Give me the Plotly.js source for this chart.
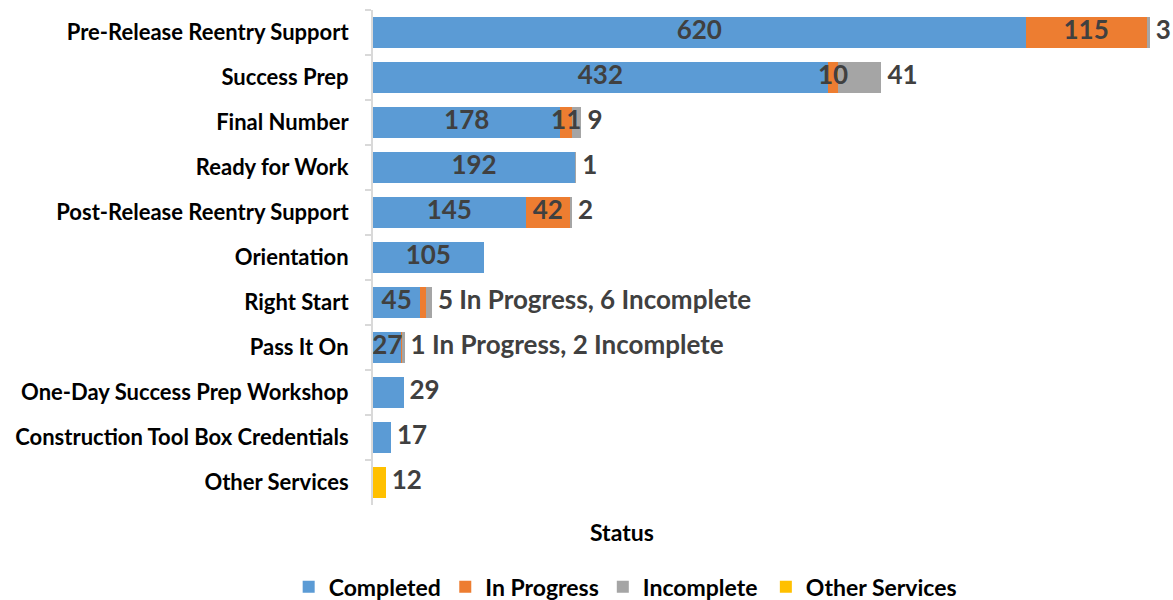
<!DOCTYPE html>
<html>
<head>
<meta charset="utf-8">
<script src="https://cdn.plot.ly/plotly-3.0.1.min.js"></script>
<style>html,body{margin:0;padding:0;background:#fff;}#chart{width:1173px;height:600px;}</style>
</head>
<body>
<div id="chart"></div>
<script>
const categories = ["Pre-Release Reentry Support","Success Prep","Final Number","Ready for Work","Post-Release Reentry Support","Orientation","Right Start","Pass It On","One-Day Success Prep Workshop","Construction Tool Box Credentials","Other Services"];
const completed = [620,432,178,192,145,105,45,27,29,17,0];
const inProgress = [115,10,11,0,42,0,5,1,0,0,0];
const incomplete = [3,41,9,1,2,0,6,2,0,0,0];
const otherServices = [0,0,0,0,0,0,0,0,0,0,12];
const completedLabels = ["620","432","178","192","145","105","45","27","","",""];
const inProgressLabels = ["115","10","11","","42","","","","","",""];
const outsideLabels = ["3","41","9","1","2","","5 In Progress, 6 Incomplete","1 In Progress, 2 Incomplete","29","17","12"];
const seriesNames = ["Completed","In Progress","Incomplete","Other Services"];
const seriesColors = ["#5B9BD5","#ED7D31","#A5A5A5","#FFC000"];

const totals = categories.map((c,i)=>completed[i]+inProgress[i]+incomplete[i]+otherServices[i]);
const completedMid = completed.map(v=>v/2);
const inProgressMid = completed.map((v,i)=>v+inProgress[i]/2);
const FONT = "Lato, 'Open Sans', sans-serif";
const labelFont = {family: FONT, size: 26, color: "#404040", weight: 700};
const legendIds = ["legend","legend2","legend3","legend4"];

function barTrace(k, x){
  return {
    type: "bar", orientation: "h", name: seriesNames[k], y: categories, x: x,
    marker: {color: seriesColors[k], line: {width: 0}},
    textposition: "none", hoverinfo: "skip", legend: legendIds[k]
  };
}
function textTrace(x, text, pos, msize){
  return {
    type: "scatter", mode: "markers+text", x: x, y: categories, text: text,
    textposition: pos, textfont: labelFont,
    marker: {size: msize, color: "rgba(0,0,0,0)"},
    showlegend: false, hoverinfo: "skip", cliponaxis: false
  };
}

const data = [
  barTrace(0, completed),
  barTrace(1, inProgress),
  barTrace(2, incomplete),
  barTrace(3, otherServices),
  textTrace(completedMid, completedLabels, "middle center", 1),
  textTrace(inProgressMid, inProgressLabels, "middle center", 1),
  textTrace(totals, outsideLabels, "middle right", 8)
];

const legendX = [0.2461, 0.3796, 0.5139, 0.6529];
function legendObj(i){
  return {
    orientation: "h", xref: "container", yref: "container", x: legendX[i], xanchor: "left", y: 0.022, yanchor: "middle",
    font: {family: FONT, size: 23, color: "#000", weight: 700},
    bgcolor: "rgba(0,0,0,0)", itemclick: false, itemdoubleclick: false
  };
}

const layout = {
  width: 1173, height: 600,
  margin: {l: 373, r: 0, t: 10, b: 95, autoexpand: false},
  barmode: "stack", bargap: 0.33,
  paper_bgcolor: "#fff", plot_bgcolor: "#fff",
  font: {family: FONT, color: "#000"},
  xaxis: {
    range: [0, 760], showticklabels: false, showgrid: false, zeroline: false, showline: false, ticks: "",
    fixedrange: true
  },
  yaxis: {
    type: "category", range: [categories.length - 0.5, -0.5],
    showline: true, linecolor: "#D9D9D9", linewidth: 2,
    ticks: "outside", tickson: "boundaries", ticklen: 6, tickcolor: "#D9D9D9", tickwidth: 2,
    ticklabelstandoff: 18,
    tickfont: {family: FONT, size: 22, color: "#000", weight: 700},
    showgrid: false, zeroline: false, fixedrange: true
  },
  annotations: [{
    text: "Status", xref: "paper", yref: "paper", x: 0.311, y: -0.055, xanchor: "center", yanchor: "middle",
    showarrow: false, font: {family: FONT, size: 23, color: "#000", weight: 700}
  }],
  showlegend: true,
  legend: legendObj(0), legend2: legendObj(1), legend3: legendObj(2), legend4: legendObj(3)
};

Plotly.newPlot("chart", data, layout, {displayModeBar: false, staticPlot: true});
</script>
</body>
</html>
